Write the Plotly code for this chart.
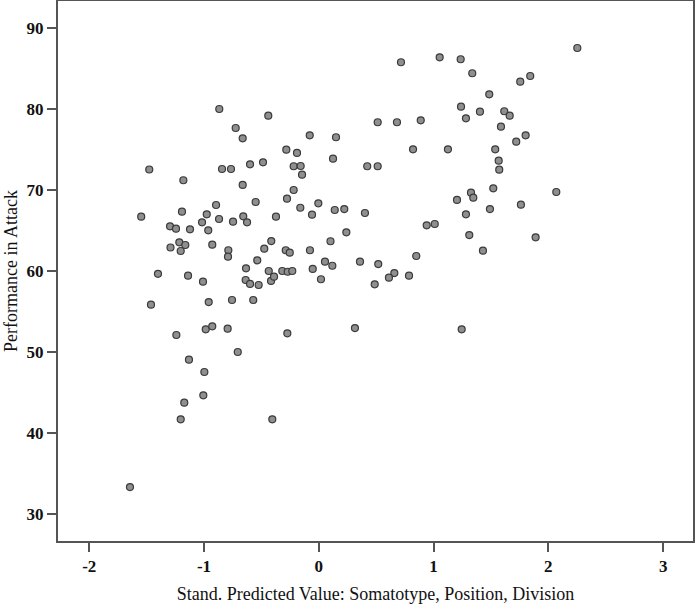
import plotly.graph_objects as go

# Standardized predicted value (x) and performance in attack (y)
pred_value = [
    -0.867, -0.440, -0.724, -0.663, -0.079, 0.150, -0.283, -0.190, 0.124, -1.477,
    -0.843, -0.765, -0.599, -0.486, -0.219, -0.158, -0.146, -1.180, -0.663, -0.219,
    -0.277, -0.550, -0.161, -0.004, 0.139, -0.059, -0.895, -1.192, -0.976, -1.547,
    -0.869, -0.658, -1.017, -0.747, -0.625, -0.373, -1.296, -1.244, -1.122, -0.963,
    -1.215, -1.292, -1.163, -1.203, -0.928, -0.414, -0.475, -0.788, -0.791, -0.288,
    -0.253, -0.077, 0.102, -0.536, 0.054, 0.118, -0.634, -0.436, -0.318, -0.271,
    -0.231, -0.053, -1.401, -1.139, -1.009, -0.637, -0.599, -0.524, -0.416, -0.390,
    0.019, -1.462, -0.959, -0.756, -0.571, -1.241, -0.985, -0.928, -0.794, -0.274,
    -0.706, -1.131, -0.997, -1.006, -1.172, -1.203, -0.405, -1.645,
    1.485, 1.239, 1.404, 1.282, 1.616, 1.663, 1.587, 1.802, 1.720, 0.513,
    0.681, 0.888, 0.821, 1.125, 1.537, 1.567, 1.572, 0.422, 0.513, 1.520,
    1.326, 1.346, 1.204, 1.491, 1.761, 0.222, 0.402, 1.282, 0.940, 1.010,
    1.311, 0.240, 1.430, 0.849, 0.359, 0.518, 0.658, 0.611, 0.786, 0.487,
    0.315, 1.245, 2.252, 1.842, 1.755, 2.069, 1.889, 0.716, 1.053, 1.236, 1.337,
]
performance = [
    80.00, 79.17, 77.65, 76.38, 76.75, 76.51, 74.98, 74.57, 73.86, 72.53,
    72.59, 72.59, 73.17, 73.42, 72.93, 72.96, 71.89, 71.20, 70.62, 70.00,
    68.93, 68.52, 67.81, 68.36, 67.53, 66.95, 68.15, 67.32, 67.00, 66.70,
    66.42, 66.75, 66.01, 66.09, 66.01, 66.70, 65.52, 65.22, 65.15, 65.02,
    63.54, 62.90, 63.21, 62.47, 63.25, 63.70, 62.75, 62.56, 61.77, 62.56,
    62.26, 62.56, 63.67, 61.32, 61.15, 60.65, 60.33, 60.00, 60.00, 59.91,
    60.00, 60.25, 59.65, 59.42, 58.68, 58.89, 58.40, 58.27, 58.77, 59.30,
    58.98, 55.84, 56.17, 56.42, 56.42, 52.10, 52.80, 53.17, 52.88, 52.31,
    50.00, 49.05, 47.53, 44.65, 43.74, 41.69, 41.69, 33.33,
    81.81, 80.28, 79.67, 78.85, 79.72, 79.17, 77.81, 76.75, 75.96, 78.36,
    78.36, 78.60, 75.02, 75.02, 75.02, 73.62, 72.51, 72.93, 72.93, 70.21,
    69.67, 69.05, 68.77, 67.65, 68.19, 67.65, 67.16, 67.00, 65.64, 65.80,
    64.44, 64.78, 62.51, 61.85, 61.15, 60.86, 59.75, 59.17, 59.42, 58.36,
    52.96, 52.80, 87.53, 84.07, 83.37, 69.75, 64.16, 85.77, 86.38, 86.14, 84.41,
]

x_ticks = [-2, -1, 0, 1, 2, 3]
x_tick_labels = ["-2", "-1", "0", "1", "2", "3"]
y_ticks = [30, 40, 50, 60, 70, 80, 90]
y_tick_labels = ["30", "40", "50", "60", "70", "80", "90"]

x_title = "Stand. Predicted Value: Somatotype, Position, Division"
y_title = "Performance in Attack"

fig = go.Figure()
fig.add_trace(go.Scatter(
    x=pred_value, y=performance, mode="markers",
    marker=dict(size=7, color="#8f8f8f", line=dict(color="#3a3a3a", width=1.2)),
    showlegend=False,
))

serif = "Liberation Serif, Times New Roman, serif"
axis_common = dict(
    showline=True, mirror=True, linecolor="#555555", linewidth=2,
    ticks="outside", ticklen=9, tickwidth=2, tickcolor="#555555",
    showgrid=False, zeroline=False, automargin=False,
    tickfont=dict(family=serif, size=17, color="#111111", weight="bold"),
)

fig.update_layout(
    width=697, height=604,
    margin=dict(l=58, r=4, t=1, b=63),
    paper_bgcolor="white", plot_bgcolor="white",
    xaxis=dict(range=[-2.272, 3.260], tickvals=x_ticks, ticktext=x_tick_labels,
               title=dict(text=x_title, font=dict(family=serif, size=18, color="#111111"), standoff=12),
               **axis_common),
    yaxis=dict(range=[26.67, 93.33], tickvals=y_ticks, ticktext=y_tick_labels,
               title=dict(text=y_title, font=dict(family=serif, size=18, color="#111111"), standoff=4),
               **axis_common),
)

fig.write_html("out.html", config={"displayModeBar": False},
               post_script="document.body.style.margin='0';")
